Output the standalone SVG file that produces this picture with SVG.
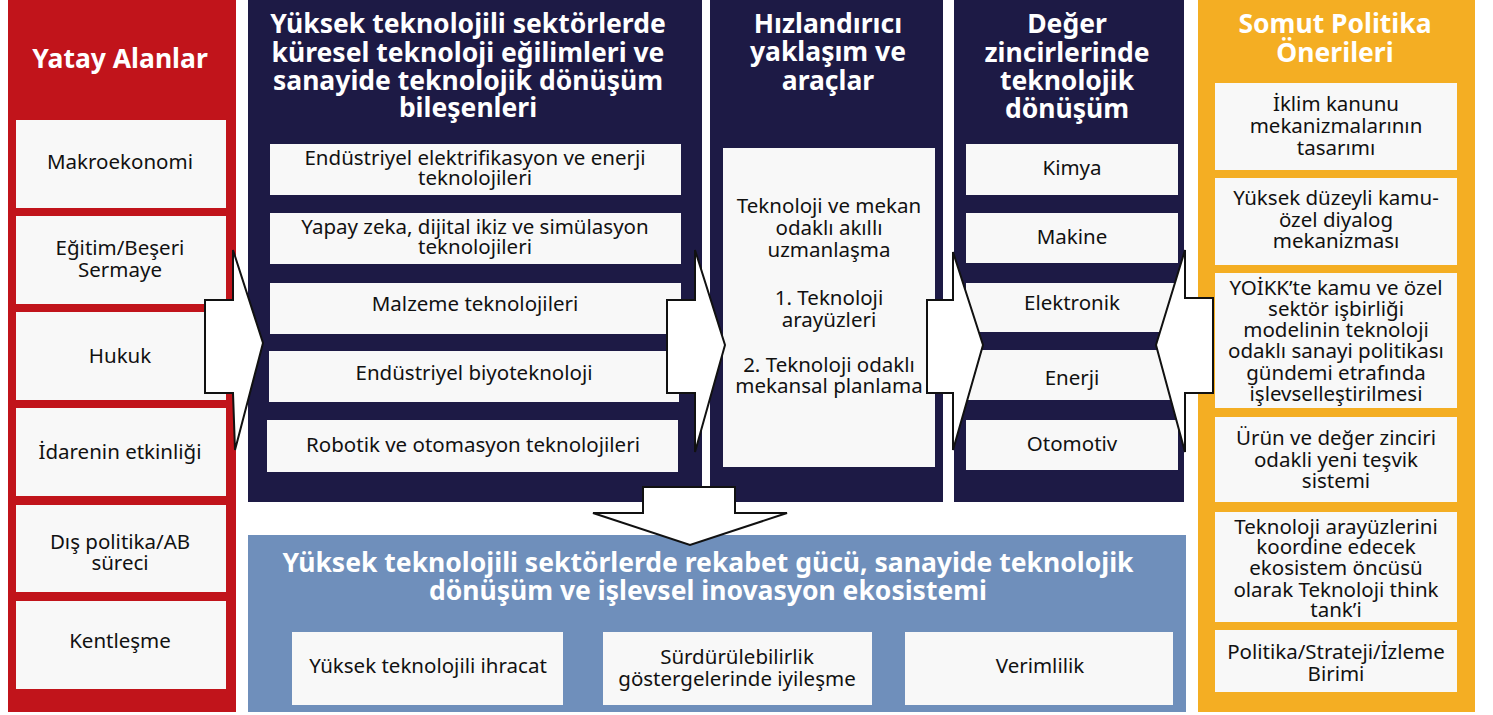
<svg xmlns="http://www.w3.org/2000/svg" width="1493" height="715" viewBox="0 0 1493 715">
<style>
text{font-family:"Noto Sans","Open Sans","DejaVu Sans",sans-serif;text-anchor:middle}
.h{font-weight:700;fill:#fff;font-size:26.5px}
.t{fill:#111;font-size:20.5px}
.tl{fill:#111;font-size:20.5px}
.box{fill:#f8f8f8}
.red{fill:#c1141b}
.navy{fill:#1d1a45}
.orange{fill:#f4ae23}
.blue{fill:#6f8fbb}
.arrow{fill:#fff;stroke:#111;stroke-width:2;stroke-linejoin:miter}
</style>
<rect width="1493" height="715" fill="#fff"/>

<g id="yatay-alanlar">
<rect class="red" x="8" y="0" width="228" height="712"/>
<text class="h" x="120" y="68" style="font-size:26.5px">Yatay Alanlar</text>
<rect class="box" x="16" y="120" width="210" height="88"/>
<text class="tl" x="120" y="169">Makroekonomi</text>
<rect class="box" x="16" y="216" width="210" height="88"/>
<text class="tl" x="120" y="255">Eğitim/Beşeri</text>
<text class="tl" x="120" y="277">Sermaye</text>
<rect class="box" x="16" y="312" width="210" height="88"/>
<text class="tl" x="120" y="363">Hukuk</text>
<rect class="box" x="16" y="408" width="210" height="88"/>
<text class="tl" x="120" y="459">İdarenin etkinliği</text>
<rect class="box" x="16" y="505" width="210" height="87"/>
<text class="tl" x="120" y="549">Dış politika/AB</text>
<text class="tl" x="120" y="570">süreci</text>
<rect class="box" x="16" y="601" width="210" height="88"/>
<text class="tl" x="120" y="648">Kentleşme</text>
</g>

<g id="teknoloji-egilimleri">
<rect class="navy" x="248" y="0" width="454" height="502"/>
<text class="h" x="468" y="33">Yüksek teknolojili sektörlerde</text>
<text class="h" x="468" y="62">küresel teknoloji eğilimleri ve</text>
<text class="h" x="468" y="90">sanayide teknolojik dönüşüm</text>
<text class="h" x="468" y="117">bileşenleri</text>
<rect class="box" x="270" y="144" width="411" height="51"/>
<text class="t" x="475" y="165">Endüstriyel elektrifikasyon ve enerji</text>
<text class="t" x="475" y="185">teknolojileri</text>
<rect class="box" x="270" y="213" width="411" height="51"/>
<text class="t" x="475" y="234">Yapay zeka, dijital ikiz ve simülasyon</text>
<text class="t" x="475" y="254">teknolojileri</text>
<rect class="box" x="270" y="283" width="411" height="51"/>
<text class="t" x="475" y="311">Malzeme teknolojileri</text>
<rect class="box" x="269" y="351" width="410" height="51"/>
<text class="t" x="474" y="380">Endüstriyel biyoteknoloji</text>
<rect class="box" x="267" y="420" width="411" height="52"/>
<text class="t" x="473" y="452">Robotik ve otomasyon teknolojileri</text>
</g>

<g id="hizlandirici">
<rect class="navy" x="710" y="0" width="233" height="502"/>
<text class="h" x="828" y="33">Hızlandırıcı</text>
<text class="h" x="828" y="61">yaklaşım ve</text>
<text class="h" x="828" y="90">araçlar</text>
<rect class="box" x="723" y="148" width="212" height="319"/>
<text class="t" x="829" y="213">Teknoloji ve mekan</text>
<text class="t" x="829" y="235">odaklı akıllı</text>
<text class="t" x="829" y="257">uzmanlaşma</text>
<text class="t" x="829" y="305">1. Teknoloji</text>
<text class="t" x="829" y="327">arayüzleri</text>
<text class="t" x="829" y="372">2. Teknoloji odaklı</text>
<text class="t" x="829" y="393">mekansal planlama</text>
</g>

<g id="deger-zincirleri">
<rect class="navy" x="954" y="0" width="230" height="502"/>
<text class="h" x="1067" y="33">Değer</text>
<text class="h" x="1067" y="62">zincirlerinde</text>
<text class="h" x="1067" y="90">teknolojik</text>
<text class="h" x="1067" y="118">dönüşüm</text>
<rect class="box" x="966" y="144" width="212" height="51"/>
<text class="t" x="1072" y="175">Kimya</text>
<rect class="box" x="966" y="213" width="212" height="50"/>
<text class="t" x="1072" y="244">Makine</text>
<rect class="box" x="966" y="283" width="212" height="49"/>
<text class="t" x="1072" y="310">Elektronik</text>
<rect class="box" x="966" y="350" width="212" height="50"/>
<text class="t" x="1072" y="385">Enerji</text>
<rect class="box" x="966" y="420" width="212" height="50"/>
<text class="t" x="1072" y="451">Otomotiv</text>
</g>

<g id="somut-politika">
<rect class="orange" x="1198" y="0" width="277" height="712"/>
<text class="h" x="1335" y="33">Somut Politika</text>
<text class="h" x="1335" y="62">Önerileri</text>
<rect class="box" x="1215" y="83" width="242" height="87"/>
<text class="t" x="1336" y="111">İklim kanunu</text>
<text class="t" x="1336" y="133">mekanizmalarının</text>
<text class="t" x="1336" y="155">tasarımı</text>
<rect class="box" x="1215" y="178" width="242" height="87"/>
<text class="t" x="1336" y="205">Yüksek düzeyli kamu-</text>
<text class="t" x="1336" y="227">özel diyalog</text>
<text class="t" x="1336" y="248">mekanizması</text>
<rect class="box" x="1215" y="273" width="242" height="135"/>
<text class="t" x="1336" y="295">YOİKK’te kamu ve özel</text>
<text class="t" x="1336" y="316">sektör işbirliği</text>
<text class="t" x="1336" y="337">modelinin teknoloji</text>
<text class="t" x="1336" y="358">odaklı sanayi politikası</text>
<text class="t" x="1336" y="380">gündemi etrafında</text>
<text class="t" x="1336" y="401">işlevselleştirilmesi</text>
<rect class="box" x="1215" y="417" width="242" height="85"/>
<text class="t" x="1336" y="445">Ürün ve değer zinciri</text>
<text class="t" x="1336" y="467">odakli yeni teşvik</text>
<text class="t" x="1336" y="488">sistemi</text>
<rect class="box" x="1215" y="512" width="242" height="110"/>
<text class="t" x="1336" y="534">Teknoloji arayüzlerini</text>
<text class="t" x="1336" y="554">koordine edecek</text>
<text class="t" x="1336" y="575">ekosistem öncüsü</text>
<text class="t" x="1336" y="597">olarak Teknoloji think</text>
<text class="t" x="1336" y="617">tank’i</text>
<rect class="box" x="1215" y="630" width="242" height="62"/>
<text class="t" x="1336" y="659">Politika/Strateji/İzleme</text>
<text class="t" x="1336" y="681">Birimi</text>
</g>

<g id="rekabet-gucu">
<rect class="blue" x="248" y="535" width="938" height="177"/>
<text class="h" x="708" y="572">Yüksek teknolojili sektörlerde rekabet gücü, sanayide teknolojik</text>
<text class="h" x="708" y="600">dönüşüm ve işlevsel inovasyon ekosistemi</text>
<rect class="box" x="292" y="632" width="271" height="73"/>
<text class="t" x="428" y="673">Yüksek teknolojili ihracat</text>
<rect class="box" x="603" y="632" width="269" height="73"/>
<text class="t" x="737" y="664">Sürdürülebilirlik</text>
<text class="t" x="737" y="686">göstergelerinde iyileşme</text>
<rect class="box" x="905" y="632" width="268" height="73"/>
<text class="t" x="1040" y="673">Verimlilik</text>
</g>

<g id="connectors">
<polygon class="arrow" points="205,300 233,300 233,250 263,343 235,450 233,393 205,393"/>
<polygon class="arrow" points="667,300 695,300 695,250 725,345 695,452 695,393 667,393"/>
<polygon class="arrow" points="927,300 953,300 953,252 983,345 953,450 953,393 927,393"/>
<polygon class="arrow" points="1213,298 1185,298 1185,250 1156,345 1185,452 1185,393 1213,393"/>
<polygon class="arrow" points="643,487 735,487 735,513 787,513 690,545 593,513 643,513"/>
</g>
</svg>
